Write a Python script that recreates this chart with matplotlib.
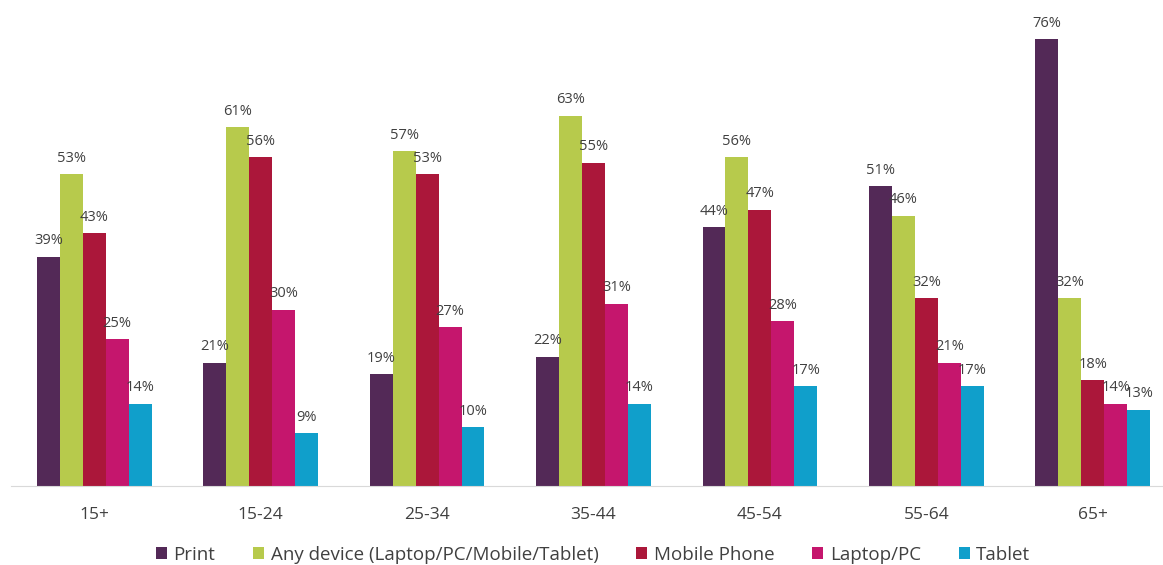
import numpy as np
import matplotlib.pyplot as plt

age_groups = ["15+", "15-24", "25-34", "35-44", "45-54", "55-64", "65+"]
series_names = ["Print", "Any device (Laptop/PC/Mobile/Tablet)", "Mobile Phone", "Laptop/PC", "Tablet"]
print_vals = [39, 21, 19, 22, 44, 51, 76]
any_device = [53, 61, 57, 63, 56, 46, 32]
mobile_phone = [43, 56, 53, 55, 47, 32, 18]
laptop_pc = [25, 30, 27, 31, 28, 21, 14]
tablet = [14, 9, 10, 14, 17, 17, 13]

colors = ["#532957", "#B7CA4C", "#AB173A", "#C5166D", "#109FCB"]
all_series = [print_vals, any_device, mobile_phone, laptop_pc, tablet]

plt.rcParams['font.family'] = ['Open Sans', 'DejaVu Sans']
text_color = "#404040"

fig = plt.figure(figsize=(11.63, 5.65), dpi=100)
# axes runs a bit past the right edge like the original
ax = fig.add_axes([11 / 1163, 0.14, 1165 / 1163, 0.832])

x = np.arange(len(age_groups))
width = 0.138
for i, (vals, name, col) in enumerate(zip(all_series, series_names, colors)):
    offs = (i - 2) * width
    bars = ax.bar(x + offs, vals, width, color=col, label=name)
    ax.bar_label(bars, labels=[f"{v}%" for v in vals], padding=6,
                 fontsize=10.5, color=text_color)

ax.set_xlim(-0.5, len(age_groups) - 0.5)
ax.set_ylim(0, 80)
ax.set_yticks([])
ax.set_xticks(x)
ax.set_xticklabels(age_groups, fontsize=12.5, color=text_color)
ax.tick_params(axis='x', length=0, pad=15)
for s in ["top", "right", "left"]:
    ax.spines[s].set_visible(False)
ax.spines["bottom"].set_color("#D9D9D9")

leg = fig.legend(loc="center", bbox_to_anchor=(0.51, 0.018), ncol=5,
                 frameon=False, fontsize=13.5, handlelength=0.6, handleheight=0.6,
                 handletextpad=0.35, columnspacing=2.0)
for t in leg.get_texts():
    t.set_color(text_color)

fig.savefig("out.png", dpi=100)
